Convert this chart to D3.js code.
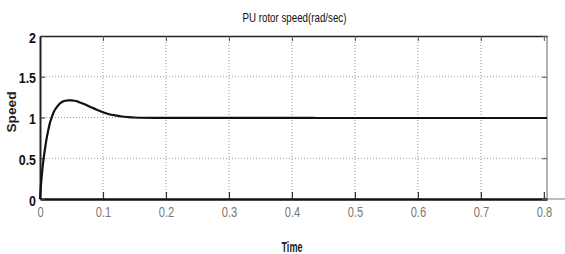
<!DOCTYPE html>
<html><head><meta charset="utf-8">
<script src="https://cdn.jsdelivr.net/npm/d3@7"></script>
<style>
body{margin:0;background:#fff;}
svg{display:block;}
text{font-family:"Liberation Sans Narrow","Liberation Sans",Arial,sans-serif;}
</style></head><body>
<svg id="c" width="565" height="254"></svg>
<script>
const timeVals = [0,0.001,0.002,0.004,0.006,0.008,0.010,0.013,0.016,0.019,0.022,0.026,0.030,0.035,0.040,0.045,0.050,0.055,0.060,0.065,0.070,0.080,0.090,0.100,0.110,0.120,0.130,0.140,0.150,0.160,0.180,0.200,0.300,0.400,0.440,0.500,0.600,0.700,0.805];
const speedVals = [0,0.12,0.22,0.38,0.51,0.62,0.72,0.84,0.94,1.01,1.07,1.12,1.16,1.19,1.205,1.21,1.21,1.205,1.195,1.18,1.165,1.13,1.095,1.065,1.04,1.025,1.012,1.005,1.0,0.997,0.996,0.996,0.996,0.996,0.994,0.994,0.994,0.994,0.994];
const xTicks = [0,0.1,0.2,0.3,0.4,0.5,0.6,0.7,0.8];
const xTickLabels = ["0","0.1","0.2","0.3","0.4","0.5","0.6","0.7","0.8"];
const yTicks = [0,0.5,1,1.5,2];
const yTickLabels = ["0","0.5","1","1.5","2"];
const titleText = "PU rotor speed(rad/sec)";
const xLabel = "Time";
const yLabel = "Speed";

const svg = d3.select("#c");
const L=40, R=547, T=36, B=199;
const x = d3.scaleLinear().domain([0,0.805]).range([L,R]);
const y = d3.scaleLinear().domain([0,2]).range([B,T]);

function squeeze(sel, f){
  sel.each(function(){ const w=this.getComputedTextLength(); this.setAttribute("textLength", (w*f).toFixed(2)); this.setAttribute("lengthAdjust","spacingAndGlyphs"); });
}

// grid
const g = svg.append("g");
g.selectAll(".gx").data(xTicks.filter(d=>d>0&&d<0.8)).enter().append("line")
  .attr("x1",d=>x(d)).attr("x2",d=>x(d)).attr("y1",T).attr("y2",B)
  .attr("stroke","#999").attr("stroke-width",1).attr("stroke-dasharray","1,2");
g.selectAll(".gy").data(yTicks.filter(d=>d>0&&d<2)).enter().append("line")
  .attr("x1",L).attr("x2",R).attr("y1",d=>y(d)).attr("y2",d=>y(d))
  .attr("stroke","#999").attr("stroke-width",1).attr("stroke-dasharray","1,2");

// frame: right gray
svg.append("line").attr("x1",R).attr("x2",R).attr("y1",T).attr("y2",B).attr("stroke","#999").attr("stroke-width",1.5);
// bottom extension gray
svg.append("line").attr("x1",R).attr("x2",565).attr("y1",B).attr("y2",B).attr("stroke","#aaa").attr("stroke-width",1.5);

// axes with inner ticks
const xAxis = d3.axisBottom(x).tickValues(xTicks).tickSizeInner(-7).tickSizeOuter(0).tickFormat((d,i)=>xTickLabels[i]);
const ax = svg.append("g").attr("transform",`translate(0,${B})`).call(xAxis);
ax.select(".domain").attr("stroke","#111").attr("stroke-width",2.5);
ax.selectAll(".tick line").attr("stroke","#333").attr("stroke-width",1.2);
ax.selectAll(".tick text").attr("fill","#777").attr("font-size",15).attr("dy",0).attr("y",18);
squeeze(ax.selectAll(".tick text"),0.74);

const xTop = d3.axisTop(x).tickValues(xTicks).tickSizeInner(-5).tickSizeOuter(0).tickFormat("");
const at = svg.append("g").attr("transform",`translate(0,${T})`).call(xTop);
at.select(".domain").attr("stroke","#222").attr("stroke-width",1.5);
at.selectAll(".tick line").attr("stroke","#555");

const yAxis = d3.axisLeft(y).tickValues(yTicks).tickSizeInner(-5).tickSizeOuter(0).tickFormat((d,i)=>yTickLabels[i]);
const ay = svg.append("g").attr("transform",`translate(${L},0)`).call(yAxis);
ay.select(".domain").attr("stroke","#222").attr("stroke-width",2);
ay.selectAll(".tick line").attr("stroke","#333");
ay.selectAll(".tick text").attr("fill","#111").attr("font-size",15.5).attr("font-weight","bold").attr("x",-4).attr("dy","0.4em");
squeeze(ay.selectAll(".tick text"),0.8);

const yRight = d3.axisRight(y).tickValues(yTicks).tickSizeInner(-5).tickSizeOuter(0).tickFormat("");
const ar = svg.append("g").attr("transform",`translate(${R},0)`).call(yRight);
ar.select(".domain").remove();
ar.selectAll(".tick line").attr("stroke","#555");

// curve
const line = d3.line().x((d,i)=>x(timeVals[i])).y(d=>y(d)).curve(d3.curveMonotoneX);
svg.append("path").datum(speedVals).attr("d",line).attr("fill","none").attr("stroke","#111").attr("stroke-width",2.2);

// title & labels
svg.append("text").attr("x",(L+R)/2+1).attr("y",22).attr("text-anchor","middle").attr("font-size",13)
  .attr("fill","#111").attr("textLength",104).attr("lengthAdjust","spacingAndGlyphs").text(titleText);
svg.append("text").attr("x",292).attr("y",252).attr("text-anchor","middle").attr("font-size",14.5).attr("font-weight","bold")
  .attr("fill","#222").attr("textLength",21).attr("lengthAdjust","spacingAndGlyphs").text(xLabel);
svg.append("text").attr("transform","translate(16,112) rotate(-90)").attr("text-anchor","middle").attr("font-size",13).attr("font-weight","bold")
  .attr("fill","#222").attr("textLength",41).attr("lengthAdjust","spacingAndGlyphs").text(yLabel);
</script>
</body></html>
